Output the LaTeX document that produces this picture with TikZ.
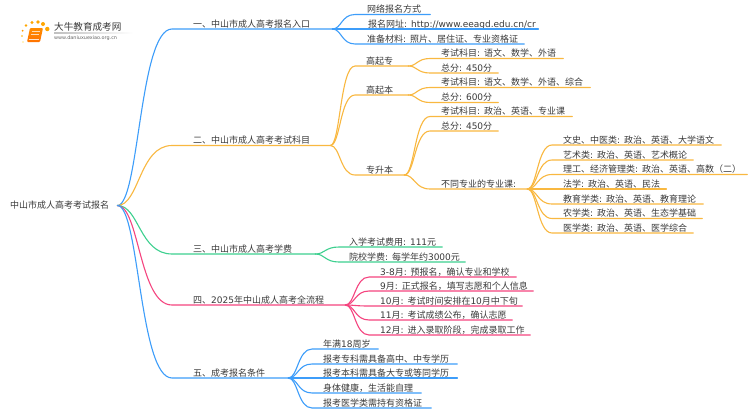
\documentclass[tikz,border=0pt]{standalone}
\usepackage{fontspec}
\setmainfont{Noto Sans CJK SC}
\newfontfamily\latfont{DejaVu Sans}
\newcommand{\lat}[1]{{\latfont #1}}
\usetikzlibrary{calc}
\definecolor{cblue}{HTML}{3D9DFA}
\definecolor{corange}{HTML}{F9B840}
\definecolor{cgreen}{HTML}{3DD08F}
\definecolor{cpink}{HTML}{F5447F}
\definecolor{ctext}{HTML}{3A3A3A}
\tikzset{
  lab/.style={anchor=south west,inner sep=0pt,text height=9pt,text depth=1.7pt,text=ctext,font=\fontsize{9}{11}\selectfont},
  branch/.style={line width=1.1pt,line cap=round},
}
% name, x0, x1, y, text x, colour, parent anchor, text
\newcommand{\bnode}[8]{%
  \pgfmathsetmacro{\bw}{#3-#2}\pgfmathsetmacro{\bo}{#5-#2}%
  \node[lab] (#1) at (#2,#4) {\makebox[\bw pt][l]{\hspace*{\bo pt}#8}};
  \draw[branch,#6] let \p1=(#7), \p2=(#1.south west), \n1={(\x2-\x1)*0.4}, \n2={(\x2-\x1)*0.6} in
    (\p1) .. controls +(\n1,0) and +(-\n2,0) .. (\p2) -- (#1.south east);
}
\begin{document}
\begin{tikzpicture}[x=1pt,y=-1pt]
\useasboundingbox (0,0) rectangle (750,410);
\fill[white] (0,0) rectangle (750,410);
% logo
\shade[top color=orange!90!yellow,bottom color=orange!90!red,rounded corners=1pt] (30,28) -- (43,28) -- (40,42) -- (27,42) -- cycle;
\draw[white,line width=0.4pt,opacity=.7] (31.5,31) -- (40,31) (30.5,34) -- (39,34);
\draw[white,line width=0.5pt,opacity=.8] (28.5,39.5) -- (38.5,39.5);
\fill[orange!80!yellow] (22.7,30.7) circle (1);
\fill[orange!60!yellow] (22,36) circle (0.8);
\fill[orange!40!yellow] (23,42) circle (0.7);
\fill[orange!70!yellow] (26,25.5) circle (1.3);
\fill[orange!70!yellow] (32,22.5) circle (1.7);
\fill[orange!70!yellow] (38,22) circle (1.9);
\fill[orange!70!yellow] (43,24) circle (2);
\fill[orange!70!yellow] (47.3,29) circle (2.2);
\node[anchor=west,inner sep=0pt,text=ctext,font=\fontsize{9.6}{11}\selectfont] (logot) at (54,27) {大牛教育成考网};
\node[anchor=west,inner sep=0pt,text=black!60,font=\fontsize{4.9}{6}\selectfont\latfont] (logou) at (54,38.5) {www.daniuxuexiao.org.cn};
\shade[left color=black!25,right color=white] (54,32.8) rectangle (133,33.4);
% root
\node[anchor=west,inner sep=0pt,text=ctext,font=\fontsize{9}{11}\selectfont,minimum width=107pt,align=left,text width=107pt] (root) at (10,205.5) {中山市成人高考考试报名};
% level 1
\bnode{a}{172}{332}{29}{193}{cblue}{root.east}{一、中山市成人高考报名入口}
\bnode{b}{172}{330}{145.5}{193}{corange}{root.east}{二、中山市成人高考考试科目}
\bnode{c}{172}{315}{254}{193}{cgreen}{root.east}{三、中山市成人高考学费}
\bnode{d}{172}{345}{305}{193}{cpink}{root.east}{四、\lat{2025}年中山成人高考全流程}
\bnode{e}{172}{288}{378}{193}{cblue}{root.east}{五、成考报名条件}
% a
\bnode{a1}{355}{430}{14.5}{367}{cblue}{a.south east}{网络报名方式}
\bnode{a2}{355}{538}{29}{368}{cblue}{a.south east}{报名网址\lat{: http://www.eeagd.edu.cn/cr}}
\bnode{a3}{355}{524}{44}{367}{cblue}{a.south east}{准备材料\lat{: }照片、居住证、专业资格证}
% b
\bnode{b1}{355}{408}{66}{366}{corange}{b.south east}{高起专}
\bnode{b2}{355}{408}{95}{366}{corange}{b.south east}{高起本}
\bnode{b3}{355}{404}{175}{366}{corange}{b.south east}{专升本}
\bnode{b11}{430}{563}{58.5}{441}{corange}{b1.south east}{考试科目\lat{: }语文、数学、外语}
\bnode{b12}{430}{498}{73}{441}{corange}{b1.south east}{总分\lat{: 450}分}
\bnode{b21}{430}{590}{87.5}{441}{corange}{b2.south east}{考试科目\lat{: }语文、数学、外语、综合}
\bnode{b22}{430}{498}{102.5}{441}{corange}{b2.south east}{总分\lat{: 600}分}
\bnode{b31}{430}{572}{116.5}{441}{corange}{b3.south east}{考试科目\lat{: }政治、英语、专业课}
\bnode{b32}{430}{498}{131}{441}{corange}{b3.south east}{总分\lat{: 450}分}
\bnode{b33}{430}{527}{189}{441}{corange}{b3.south east}{不同专业的专业课\lat{:}}
\bnode{s1}{552}{721}{145}{563}{corange}{b33.south east}{文史、中医类\lat{: }政治、英语、大学语文}
\bnode{s2}{552}{693}{160}{563}{corange}{b33.south east}{艺术类\lat{: }政治、英语、艺术概论}
\bnode{s3}{552}{747}{174.5}{563}{corange}{b33.south east}{理工、经济管理类\lat{: }政治、英语、高数（二）}
\bnode{s4}{552}{666}{189}{563}{corange}{b33.south east}{法学\lat{: }政治、英语、民法}
\bnode{s5}{552}{703}{204}{563}{corange}{b33.south east}{教育学类\lat{: }政治、英语、教育理论}
\bnode{s6}{552}{702}{218.5}{563}{corange}{b33.south east}{农学类\lat{: }政治、英语、生态学基础}
\bnode{s7}{552}{693}{233}{563}{corange}{b33.south east}{医学类\lat{: }政治、英语、医学综合}
% c
\bnode{c1}{339}{442}{247}{349}{cgreen}{c.south east}{入学考试费用\lat{: 111}元}
\bnode{c2}{339}{465}{262}{349}{cgreen}{c.south east}{院校学费\lat{: }每学年约\lat{3000}元}
% d
\bnode{d1}{369}{516}{277}{380}{cpink}{d.south east}{\lat{3-8}月\lat{: }预报名，确认专业和学校}
\bnode{d2}{369}{533}{291}{380}{cpink}{d.south east}{\lat{9}月\lat{: }正式报名，填写志愿和个人信息}
\bnode{d3}{369}{522}{306}{380}{cpink}{d.south east}{\lat{10}月\lat{: }考试时间安排在\lat{10}月中下旬}
\bnode{d4}{369}{512}{320}{380}{cpink}{d.south east}{\lat{11}月\lat{: }考试成绩公布，确认志愿}
\bnode{d5}{369}{530}{335}{380}{cpink}{d.south east}{\lat{12}月\lat{: }进入录取阶段，完成录取工作}
% e
\bnode{e1}{312}{378}{349}{323}{cblue}{e.south east}{年满\lat{18}周岁}
\bnode{e2}{312}{457}{364}{323}{cblue}{e.south east}{报考专科需具备高中、中专学历}
\bnode{e3}{312}{457}{378}{323}{cblue}{e.south east}{报考本科需具备大专或等同学历}
\bnode{e4}{312}{421}{393}{323}{cblue}{e.south east}{身体健康，生活能自理}
\bnode{e5}{312}{431}{408}{323}{cblue}{e.south east}{报考医学类需持有资格证}
\end{tikzpicture}
\end{document}
